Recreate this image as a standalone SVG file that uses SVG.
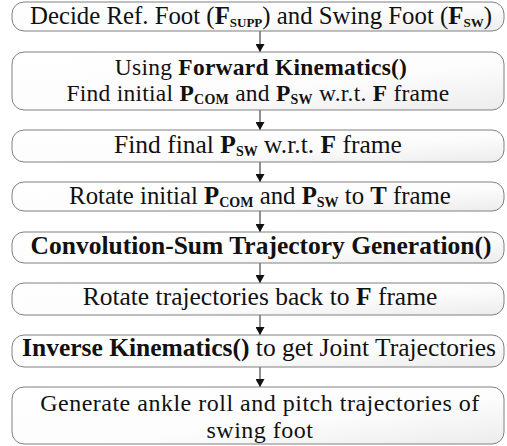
<svg xmlns="http://www.w3.org/2000/svg" width="507" height="446" viewBox="0 0 507 446">
<defs>
<linearGradient id="g" x1="0" y1="0" x2="1" y2="1">
<stop offset="0" stop-color="#ffffff"/>
<stop offset="0.6" stop-color="#fcfcfc"/>
<stop offset="1" stop-color="#ececec"/>
</linearGradient>
<marker id="ah" markerWidth="8" markerHeight="9" refX="8" refY="4.5" orient="auto" markerUnits="userSpaceOnUse" viewBox="0 0 8 9">
<path d="M0,0 L8,4.5 L0,9 z" fill="#111"/>
</marker>
</defs>
<style>
.box{fill:url(#g);stroke:#808080;stroke-width:1}
.t{font-family:"Liberation Serif","Times New Roman",serif;font-size:25.5px;fill:#111;text-anchor:middle}
.m{font-size:24.8px}
.two{font-size:23.5px;letter-spacing:0.25px}
.two8{font-size:24px;letter-spacing:0.5px}
.b{font-weight:bold}
.s{font-size:14px;font-weight:bold}
.s1{font-size:13px;font-weight:bold}
.c line{stroke:#222;stroke-width:1}
</style>
<g class="c">
<line x1="260" y1="31" x2="260" y2="52" marker-end="url(#ah)"/>
<line x1="260" y1="110" x2="260" y2="130" marker-end="url(#ah)"/>
<line x1="260" y1="162" x2="260" y2="182" marker-end="url(#ah)"/>
<line x1="260" y1="211" x2="260" y2="232" marker-end="url(#ah)"/>
<line x1="260" y1="263" x2="260" y2="283" marker-end="url(#ah)"/>
<line x1="260" y1="315" x2="260" y2="335" marker-end="url(#ah)"/>
<line x1="260" y1="367" x2="260" y2="387" marker-end="url(#ah)"/>
</g>
<g id="n1"><rect class="box" x="12" y="2" width="492" height="29" rx="12"/>
<text class="t m" x="261" y="24">Decide Ref. Foot (<tspan class="b">F</tspan><tspan class="s1" dy="3">SUPP</tspan><tspan dy="-3">) and Swing Foot (</tspan><tspan class="b">F</tspan><tspan class="s1" dy="3">SW</tspan><tspan dy="-3">)</tspan></text></g>
<g id="n2"><rect class="box" x="12" y="52" width="492" height="58" rx="12"/>
<text class="t two" x="261" y="75">Using <tspan class="b">Forward Kinematics()</tspan></text>
<text class="t two" x="258" y="101">Find initial <tspan class="b">P</tspan><tspan class="s" dy="3">COM</tspan><tspan dy="-3"> and </tspan><tspan class="b">P</tspan><tspan class="s" dy="3">SW</tspan><tspan dy="-3"> w.r.t. </tspan><tspan class="b">F</tspan> frame</text></g>
<g id="n3"><rect class="box" x="12" y="130" width="492" height="32" rx="12"/>
<text class="t" x="258" y="153">Find final <tspan class="b">P</tspan><tspan class="s" dy="3">SW</tspan><tspan dy="-3"> w.r.t. </tspan><tspan class="b">F</tspan> frame</text></g>
<g id="n4"><rect class="box" x="12" y="182" width="492" height="29" rx="12"/>
<text class="t m" x="260" y="204">Rotate initial <tspan class="b">P</tspan><tspan class="s" dy="3">COM</tspan><tspan dy="-3"> and </tspan><tspan class="b">P</tspan><tspan class="s" dy="3">SW</tspan><tspan dy="-3"> to </tspan><tspan class="b">T</tspan> frame</text></g>
<g id="n5"><rect class="box" x="12" y="232" width="492" height="31" rx="12"/>
<text class="t b" x="261" y="254">Convolution-Sum Trajectory Generation()</text></g>
<g id="n6"><rect class="box" x="12" y="283" width="492" height="32" rx="12"/>
<text class="t" x="260" y="305">Rotate trajectories back to <tspan class="b">F</tspan> frame</text></g>
<g id="n7"><rect class="box" x="12" y="335" width="492" height="32" rx="12"/>
<text class="t" x="259" y="356"><tspan class="b">Inverse Kinematics()</tspan> to get Joint Trajectories</text></g>
<g id="n8"><rect class="box" x="12" y="387" width="492" height="57" rx="12"/>
<text class="t two8" x="260" y="411">Generate ankle roll and pitch trajectories of</text>
<text class="t two8" x="260" y="437.5">swing foot</text></g>
</svg>
